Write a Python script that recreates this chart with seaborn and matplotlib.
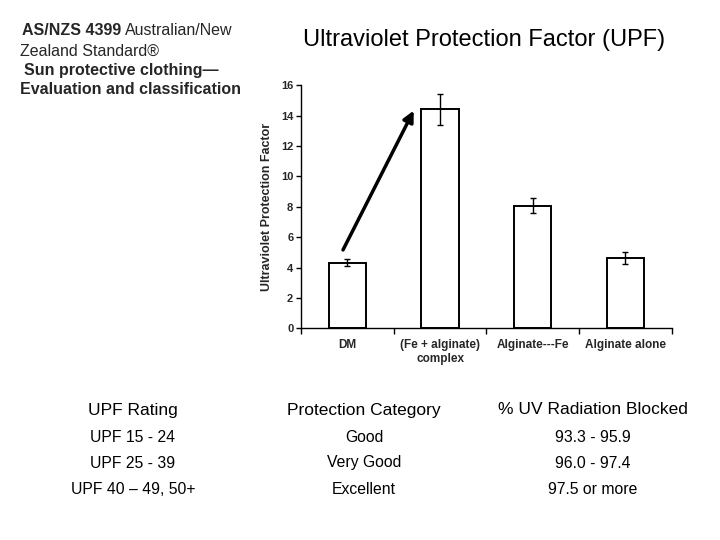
import matplotlib
matplotlib.use("Agg")
import matplotlib.pyplot as plt
import seaborn as sns
import pandas as pd

# chart data
categories = ["DM", "(Fe + alginate)\ncomplex", "Alginate---Fe", "Alginate alone"]
upf_values = [4.32, 14.42, 8.08, 4.63]
upf_errors = [0.24, 1.02, 0.50, 0.42]
y_ticks = [0, 2, 4, 6, 8, 10, 12, 14, 16]

# table data
table_headers = ["UPF Rating", "Protection Category", "% UV Radiation Blocked"]
col_rating = ["UPF 15 - 24", "UPF 25 - 39", "UPF 40 \u2013 49, 50+"]
col_category = ["Good", "Very Good", "Excellent"]
col_blocked = ["93.3 - 95.9", "96.0 - 97.4", "97.5 or more"]

sns.set_theme(style="white")
plt.rcParams["font.family"] = ["Liberation Sans", "DejaVu Sans"]

df = pd.DataFrame({"sample": categories, "upf": upf_values, "err": upf_errors})

fig = plt.figure(figsize=(7.2, 5.4), dpi=100)
ax = fig.add_axes([0.418, 0.392, 0.515, 0.450])

sns.barplot(data=df, x="sample", y="upf", color="white", edgecolor="black",
            linewidth=1.4, width=0.4, errorbar=None, ax=ax)
ax.errorbar(range(len(categories)), df["upf"], yerr=df["err"], fmt="none",
            ecolor="black", elinewidth=1.0, capsize=2.5, capthick=1.0)

ax.set_xlim(-0.5, len(categories) - 0.5)
ax.set_ylim(0, 16)
ax.set_yticks(y_ticks)
ax.set_yticklabels([str(t) for t in y_ticks], fontweight="bold", fontsize=8)
ax.set_xticks(range(len(categories)))
ax.set_xticklabels(categories, fontweight="bold", fontsize=8.5)
ax.set_xticks([i - 0.5 for i in range(len(categories) + 1)], minor=True)
ax.tick_params(axis="x", which="major", length=0, pad=8)
ax.tick_params(axis="x", which="minor", direction="out", length=4, width=1, color="black", bottom=True)
ax.tick_params(axis="y", direction="out", length=3.5, width=1, color="black", left=True, pad=2)
ax.set_xlabel("")
ax.set_ylabel("Ultraviolet Protection Factor", fontweight="bold", fontsize=9, labelpad=6)
sns.despine(ax=ax)
for s in ["left", "bottom"]:
    ax.spines[s].set_color("black")
    ax.spines[s].set_linewidth(1.0)

# arrow from DM to the complex bar
ax.annotate("", xy=(0.73, 14.5), xytext=(-0.06, 5.0),
            arrowprops=dict(arrowstyle="-|>", color="black", lw=2.5, mutation_scale=16))

fig.text(0.672, 0.926, "Ultraviolet Protection Factor (UPF)", fontsize=17,
         ha="center", va="center", color="black")

# standard description block
fig.canvas.draw()
t1 = fig.text(22 / 720, 1 - 31 / 540, "AS/NZS 4399", fontsize=11.5, fontweight="bold",
              ha="left", va="center")
bb = t1.get_window_extent(fig.canvas.get_renderer())
fig.text((bb.x1 + 4) / 720, 1 - 31 / 540, "Australian/New", fontsize=11.5,
         ha="left", va="center")
fig.text(20 / 720, 1 - 51 / 540, "Zealand Standard\u00ae", fontsize=11.5, ha="left", va="center")
fig.text(24 / 720, 1 - 71 / 540, "Sun protective clothing\u2014", fontsize=11.5,
         fontweight="bold", ha="left", va="center")
fig.text(20 / 720, 1 - 90 / 540, "Evaluation and classification", fontsize=11.5,
         fontweight="bold", ha="left", va="center")

# UPF classification table
col_x = [133 / 720, 364 / 720, 593 / 720]
row_y = [1 - 410 / 540, 1 - 437 / 540, 1 - 463 / 540, 1 - 490 / 540]
for x, h in zip(col_x, table_headers):
    fig.text(x, row_y[0], h, fontsize=12.5, ha="center", va="center", color="black")
for x, col in zip(col_x, [col_rating, col_category, col_blocked]):
    for y, val in zip(row_y[1:], col):
        fig.text(x, y, val, fontsize=11.3, ha="center", va="center", color="black")

fig.savefig("out.png", dpi=100, facecolor="white")
